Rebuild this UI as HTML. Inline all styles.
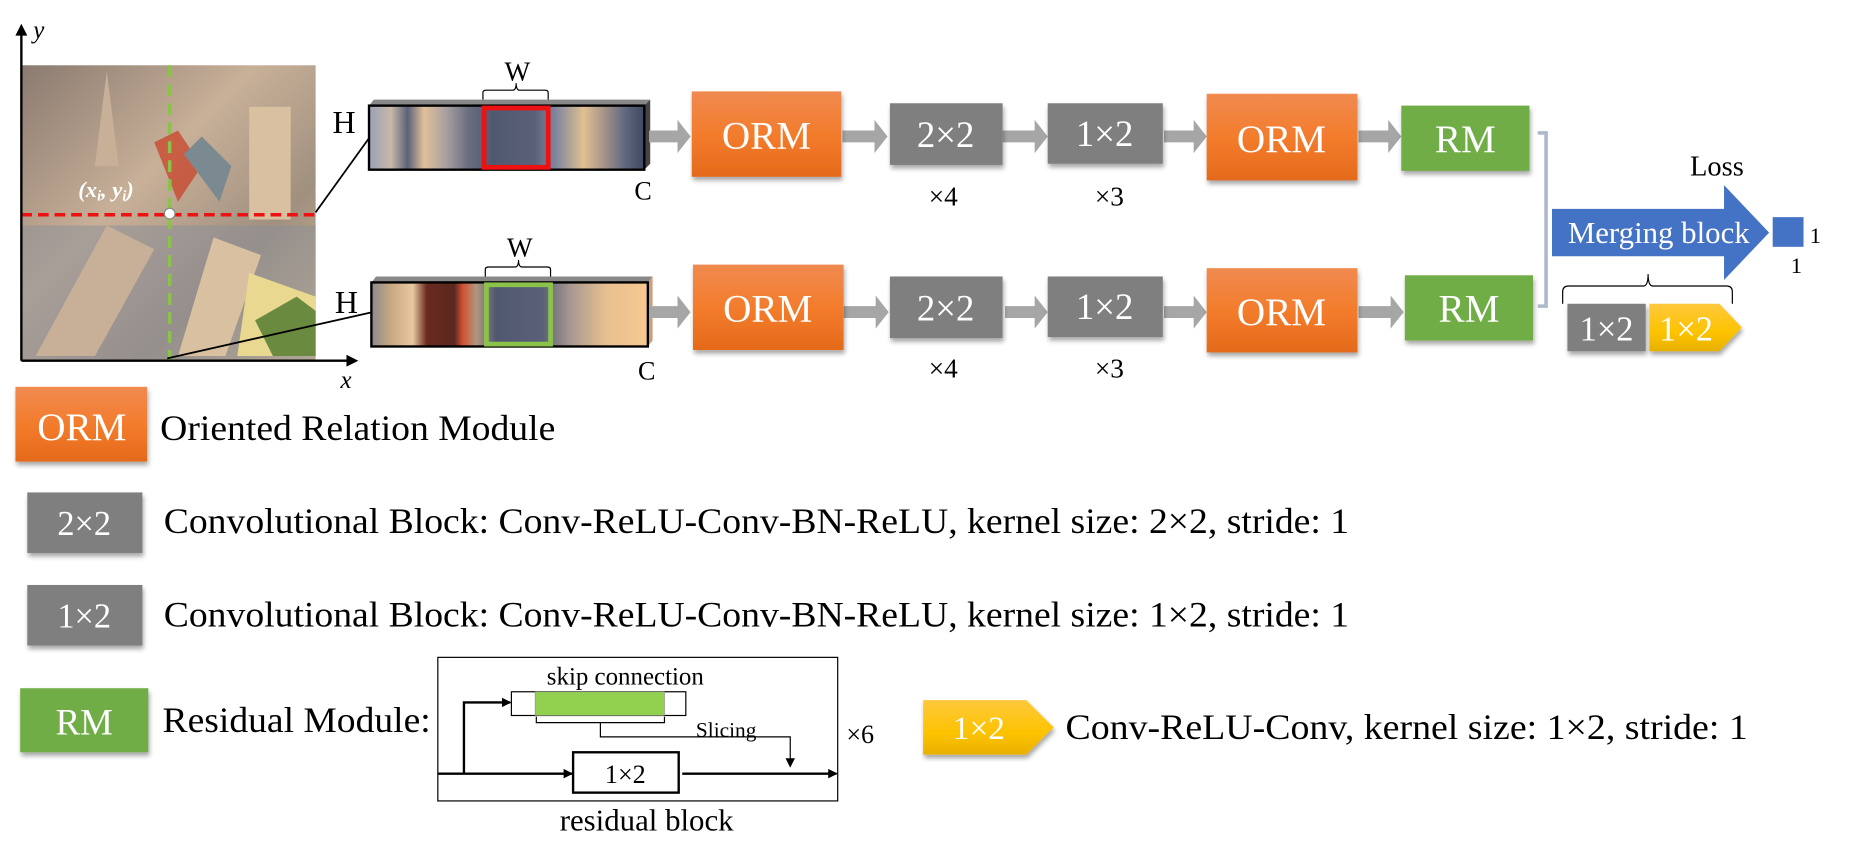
<!DOCTYPE html>
<html><head><meta charset="utf-8"><style>html,body{margin:0;padding:0;background:#fff;}svg{display:block}</style></head>
<body>
<svg width="1851" height="856" viewBox="0 0 1560 721.4" xmlns="http://www.w3.org/2000/svg" font-family="Liberation Serif, serif">
<defs>
<linearGradient id="og" x1="0" y1="0" x2="0" y2="1"><stop offset="0" stop-color="#f08a50"/><stop offset="0.5" stop-color="#f37c2c"/><stop offset="1" stop-color="#e46a1a"/></linearGradient>
<linearGradient id="yg" x1="0" y1="0" x2="0" y2="1"><stop offset="0" stop-color="#fec83c"/><stop offset="0.6" stop-color="#fdc300"/><stop offset="1" stop-color="#e8b000"/></linearGradient>
<linearGradient id="s1" x1="0" y1="0" x2="1" y2="0">
<stop offset="0" stop-color="#9aa0b5"/><stop offset="0.08" stop-color="#c8b8a8"/><stop offset="0.14" stop-color="#5a6278"/><stop offset="0.2" stop-color="#e0c098"/><stop offset="0.28" stop-color="#a8a0a0"/><stop offset="0.36" stop-color="#6a6e80"/><stop offset="0.45" stop-color="#505870"/><stop offset="0.6" stop-color="#5a6078"/><stop offset="0.68" stop-color="#8088a0"/><stop offset="0.78" stop-color="#e0c090"/><stop offset="0.86" stop-color="#a09088"/><stop offset="0.93" stop-color="#606880"/><stop offset="1" stop-color="#404860"/></linearGradient>
<linearGradient id="s2" x1="0" y1="0" x2="1" y2="0">
<stop offset="0" stop-color="#8a8a90"/><stop offset="0.07" stop-color="#c8a880"/><stop offset="0.15" stop-color="#e8c8a0"/><stop offset="0.2" stop-color="#6a2a20"/><stop offset="0.3" stop-color="#5a2820"/><stop offset="0.33" stop-color="#d05030"/><stop offset="0.38" stop-color="#b09880"/><stop offset="0.45" stop-color="#505870"/><stop offset="0.62" stop-color="#5a6078"/><stop offset="0.72" stop-color="#a89890"/><stop offset="0.85" stop-color="#e8c090"/><stop offset="1" stop-color="#f8c890"/></linearGradient>
<linearGradient id="ph" x1="0" y1="0" x2="1" y2="1"><stop offset="0" stop-color="#8a7a70"/><stop offset="0.4" stop-color="#c8b098"/><stop offset="0.7" stop-color="#a09080"/><stop offset="1" stop-color="#d8c090"/></linearGradient>
<filter id="sh" x="-10%" y="-10%" width="125%" height="130%"><feDropShadow dx="1" dy="3" stdDeviation="2" flood-color="#000" flood-opacity="0.35"/></filter>
<marker id="ah" markerWidth="8" markerHeight="8" refX="7" refY="4" orient="auto" markerUnits="userSpaceOnUse"><path d="M0,0 L8,4 L0,8 z" fill="#000"/></marker>
</defs>

<rect x="18" y="55" width="248" height="248" fill="url(#ph)"/>
<rect x="18" y="190" width="248" height="113" fill="#8a8e9a" opacity="0.5"/>
<polygon points="30,300 90,190 130,210 80,300" fill="#c8b098"/>
<polygon points="150,300 180,200 220,215 190,300" fill="#d8c0a0"/>
<polygon points="210,230 266,250 266,300 200,300" fill="#e8d890"/>
<polygon points="215,270 250,250 266,262 266,300 230,300" fill="#6a8a40"/>
<rect x="210" y="90" width="35" height="95" fill="#d8c0a0"/>
<polygon points="80,140 90,60 100,140" fill="#c8b098"/>
<polygon points="130,120 150,110 170,140 150,170" fill="#c84a30" opacity="0.8"/>
<polygon points="155,130 170,115 195,140 185,170" fill="#7a8a90"/>
<line x1="18" y1="181" x2="266" y2="181" stroke="#ee1111" stroke-width="3" stroke-dasharray="9,5"/>
<line x1="143" y1="55" x2="143" y2="303" stroke="#8bc34a" stroke-width="3" stroke-dasharray="10,6"/>
<circle cx="143" cy="180" r="4.5" fill="#fff" stroke="#888" stroke-width="1"/>
<text x="66" y="166" font-size="19" font-style="italic" fill="#fff" font-weight="bold">(x<tspan font-size="12" dy="3">i</tspan><tspan dy="-3">, y</tspan><tspan font-size="12" dy="3">i</tspan><tspan dy="-3">)</tspan></text>
<line x1="18" y1="304" x2="18" y2="26" stroke="#000" stroke-width="2"/>
<polygon points="13,30 18,20 23,30" fill="#000"/>
<line x1="18" y1="304" x2="296" y2="304" stroke="#000" stroke-width="2"/>
<polygon points="292,299 302,304 292,309" fill="#000"/>
<text x="28" y="32" font-size="21" font-style="italic">y</text>
<text x="287" y="327" font-size="21" font-style="italic">x</text>
<line x1="266" y1="179" x2="312" y2="115" stroke="#000" stroke-width="1.5"/>
<line x1="141" y1="302" x2="314" y2="263" stroke="#000" stroke-width="1.5"/>

<polygon points="311,89 315,84 548,84 543,89" fill="#888"/>
<polygon points="543,89 548,84 548,138 543,143" fill="#444"/>
<rect x="311" y="89" width="232" height="54" fill="url(#s1)" stroke="#000" stroke-width="2"/>
<rect x="408" y="91" width="54" height="50" fill="none" stroke="#ee1111" stroke-width="4"/>
<path d="M407,84 V78 Q407,76 410,76 H432 Q435,76 435,70 Q435,76 438,76 H459 Q462,76 462,78 V84" fill="none" stroke="#000" stroke-width="1"/>
<text x="436" y="68" font-size="23" text-anchor="middle">W</text>
<text x="290" y="112" font-size="27" text-anchor="middle">H</text>
<text x="542" y="168" font-size="22" text-anchor="middle">C</text>
<polygon points="313,238 317,233 550,233 546,238" fill="#888"/>
<polygon points="546,238 550,233 550,287 546,292" fill="#c8a080"/>
<rect x="313" y="238" width="233" height="54" fill="url(#s2)" stroke="#000" stroke-width="2"/>
<rect x="410" y="240" width="54" height="50" fill="none" stroke="#8bc34a" stroke-width="4"/>
<path d="M409,233 V227 Q409,225 412,225 H434 Q437,225 437,219 Q437,225 440,225 H461 Q464,225 464,227 V233" fill="none" stroke="#000" stroke-width="1"/>
<text x="438" y="216" font-size="23" text-anchor="middle">W</text>
<text x="292" y="264" font-size="27" text-anchor="middle">H</text>
<text x="545" y="320" font-size="22" text-anchor="middle">C</text>

<g fill="#a6a6a6">
<path d="M547,110 h24 v-9 l11,14 l-11,14 v-9 h-24z"/>
<path d="M547,258 h24 v-9 l11,14 l-11,14 v-9 h-24z"/>
<path d="M710,110 h27 v-9 l11,14 l-11,14 v-9 h-27z"/>
<path d="M711,258 h27 v-9 l11,14 l-11,14 v-9 h-27z"/>
<path d="M845,110 h27 v-9 l11,14 l-11,14 v-9 h-27z"/>
<path d="M847,258 h25 v-9 l11,14 l-11,14 v-9 h-25z"/>
<path d="M981,110 h25 v-9 l11,14 l-11,14 v-9 h-25z"/>
<path d="M981,258 h25 v-9 l11,14 l-11,14 v-9 h-25z"/>
<path d="M1145,110 h25 v-9 l11,14 l-11,14 v-9 h-25z"/>
<path d="M1145,258 h27 v-9 l11,14 l-11,14 v-9 h-27z"/>
</g>

<g filter="url(#sh)">
<rect x="583" y="77" width="126" height="72" fill="url(#og)"/>
<rect x="584" y="223" width="127" height="72" fill="url(#og)"/>
<rect x="750" y="87" width="95" height="52" fill="#7f7f7f"/>
<rect x="750" y="233" width="95" height="52" fill="#7f7f7f"/>
<rect x="883" y="87" width="97" height="51" fill="#7f7f7f"/>
<rect x="883" y="233" width="97" height="51" fill="#7f7f7f"/>
<rect x="1017" y="79" width="127" height="73" fill="url(#og)"/>
<rect x="1017" y="226" width="127" height="71" fill="url(#og)"/>
<rect x="1181" y="89" width="108" height="55" fill="#70ad47"/>
<rect x="1184" y="232" width="108" height="55" fill="#70ad47"/>
</g>
<g fill="#fff" font-size="33" text-anchor="middle">
<text x="646" y="125">ORM</text>
<text x="647" y="271">ORM</text>
<text x="797" y="124" font-size="31">2×2</text>
<text x="797" y="270" font-size="31">2×2</text>
<text x="931" y="123" font-size="31">1×2</text>
<text x="931" y="269" font-size="31">1×2</text>
<text x="1080" y="128">ORM</text>
<text x="1080" y="274">ORM</text>
<text x="1235" y="128">RM</text>
<text x="1238" y="271">RM</text>
</g>
<g font-size="23" text-anchor="middle">
<text x="795" y="173">×4</text>
<text x="795" y="318">×4</text>
<text x="935" y="173">×3</text>
<text x="935" y="318">×3</text>
</g>

<path d="M1296,112 h7 v146 h-7" fill="none" stroke="#adb9ca" stroke-width="3"/>
<polygon points="1308,176 1453,176 1453,156 1491,196 1453,236 1453,216 1308,216" fill="#4472c4"/>
<text x="1398" y="205" font-size="26" fill="#fff" text-anchor="middle">Merging block</text>
<text x="1447" y="148" font-size="24" text-anchor="middle">Loss</text>
<rect x="1494" y="183" width="26" height="25" fill="#4472c4"/>
<text x="1530" y="205" font-size="19" text-anchor="middle">1</text>
<text x="1514" y="230" font-size="19" text-anchor="middle">1</text>
<path d="M1317,256 V246 Q1317,241 1322,241 H1385 Q1389,241 1389,231 Q1389,241 1393,241 H1455 Q1460,241 1460,246 V256" fill="none" stroke="#000" stroke-width="1"/>
<g filter="url(#sh)">
<rect x="1321" y="256" width="66" height="40" fill="#7f7f7f"/>
<polygon points="1390,256 1449,256 1468,276 1449,296 1390,296" fill="url(#yg)"/>
</g>
<text x="1354" y="287" font-size="29" fill="#fff" text-anchor="middle">1×2</text>
<text x="1421" y="287" font-size="29" fill="#fff" text-anchor="middle">1×2</text>

<g filter="url(#sh)">
<rect x="13" y="326" width="111" height="63" fill="url(#og)"/>
<rect x="23" y="415" width="97" height="51" fill="#7f7f7f"/>
<rect x="23" y="493" width="97" height="51" fill="#7f7f7f"/>
<rect x="17" y="580" width="108" height="54" fill="#70ad47"/>
<polygon points="778,590 865,590 888,613 865,636 778,636" fill="url(#yg)"/>
</g>
<g fill="#fff" text-anchor="middle">
<text x="69" y="371" font-size="33">ORM</text>
<text x="71" y="451" font-size="29">2×2</text>
<text x="71" y="529" font-size="29">1×2</text>
<text x="71" y="619" font-size="31">RM</text>
<text x="825" y="623" font-size="28">1×2</text>
</g>
<g font-size="30">
<text x="135" y="371" textLength="333" lengthAdjust="spacingAndGlyphs">Oriented Relation Module</text>
<text x="138" y="449" textLength="999" lengthAdjust="spacingAndGlyphs">Convolutional Block: Conv-ReLU-Conv-BN-ReLU, kernel size: 2×2, stride: 1</text>
<text x="138" y="528" textLength="999" lengthAdjust="spacingAndGlyphs">Convolutional Block: Conv-ReLU-Conv-BN-ReLU, kernel size: 1×2, stride: 1</text>
<text x="137" y="617" textLength="226" lengthAdjust="spacingAndGlyphs">Residual Module:</text>
<text x="898" y="623" textLength="575" lengthAdjust="spacingAndGlyphs">Conv-ReLU-Conv, kernel size: 1×2, stride: 1</text>
</g>

<rect x="369" y="554" width="337" height="121" fill="none" stroke="#000" stroke-width="1"/>
<text x="527" y="577" font-size="21" text-anchor="middle">skip connection</text>
<rect x="431" y="583" width="147" height="20" fill="#fff" stroke="#000" stroke-width="1"/>
<rect x="451" y="583" width="109" height="20" fill="#92d050" stroke="#888" stroke-width="0.5"/>
<path d="M452,604 v5 h108 v-5" fill="none" stroke="#000" stroke-width="1"/>
<path d="M506,609 v12 h160 v25" fill="none" stroke="#000" stroke-width="1" marker-end="url(#ah)"/>
<text x="612" y="621" font-size="18" text-anchor="middle">Slicing</text>
<line x1="369" y1="652" x2="482" y2="652" stroke="#000" stroke-width="2" marker-end="url(#ah)"/>
<rect x="483" y="634" width="89" height="34" fill="#fff" stroke="#000" stroke-width="2"/>
<text x="527" y="660" font-size="22" text-anchor="middle">1×2</text>
<line x1="575" y1="652" x2="705" y2="652" stroke="#000" stroke-width="2" marker-end="url(#ah)"/>
<path d="M391,652 V592 H430" fill="none" stroke="#000" stroke-width="2" marker-end="url(#ah)"/>
<text x="725" y="626" font-size="22" text-anchor="middle">×6</text>
<text x="545" y="700" font-size="26" text-anchor="middle">residual block</text>
</svg>
</body></html>
